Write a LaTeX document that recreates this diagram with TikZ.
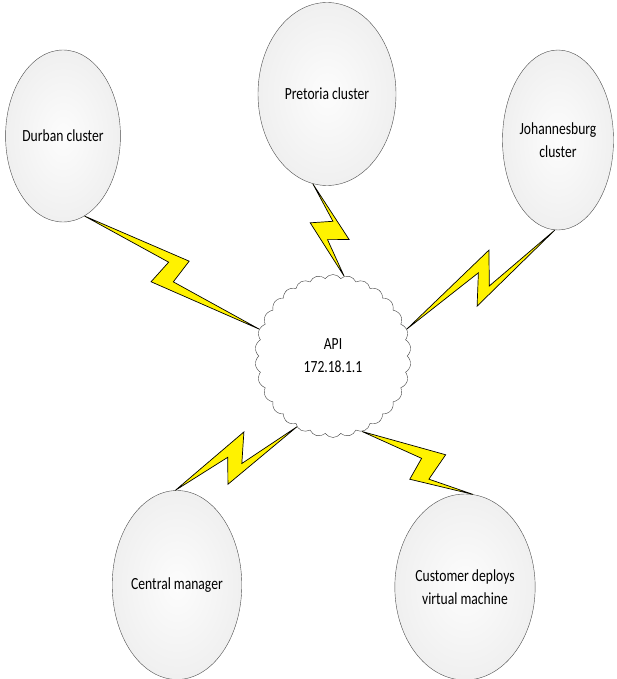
\documentclass[tikz,border=0pt]{standalone}
\usepackage{fontspec}
\setmainfont{Carlito}[FakeStretch=0.8]
\usetikzlibrary{shapes.geometric,shapes.symbols,calc}
\begin{document}
\begin{tikzpicture}[x=1pt,y=1pt]
\tikzset{cluster/.style = {shape=ellipse,draw=black!70,inner color=black!1,outer color=black!6,
  align=center,inner sep=0pt,font=\fontsize{17}{23}\selectfont}}
\tikzset{bolt/.style n args = {8}{fill=yellow,draw=black,line width=0.7pt,line join=miter,
  to path={-- ($(\tikztostart)!#1!(\tikztotarget)!#2pt!90:(\tikztotarget)$)
           -- ($(\tikztostart)!#3!(\tikztotarget)!#4pt!90:(\tikztotarget)$)
           -- (\tikztotarget)
           -- ($(\tikztostart)!#5!(\tikztotarget)!#6pt!90:(\tikztotarget)$)
           -- ($(\tikztostart)!#7!(\tikztotarget)!#8pt!90:(\tikztotarget)$)
           -- cycle}}}
\useasboundingbox (0,0) rectangle (616,-679);
% clusters on top
\node[cluster,minimum width=112pt,minimum height=172pt] (dur) at (63,-136) {Durban cluster};
\node[cluster,minimum width=138pt,minimum height=183pt] (pre) at (327,-94) {Pretoria cluster};
\node[cluster,minimum width=111pt,minimum height=180pt] (jnb) at (558,-140) {Johannesburg\\cluster};
% api in the middle
\node[cloud,cloud puffs=30,cloud puff arc=110,aspect=1,draw=black!75,fill=white,align=center,
  minimum width=156pt,minimum height=163pt,font=\fontsize{17}{23}\selectfont] (api) at (333,-356) {API\\172.18.1.1};
% nodes below
\node[cluster,minimum width=125pt,minimum height=189pt] (cen) at (177,-585) {Central manager};
\node[cluster,minimum width=121pt,minimum height=186pt] (cus) at (465,-587) {Customer deploys\\virtual machine};
% lightning links to the api
\draw[bolt={.54}{19}{.53}{-7}{.44}{-19}{.46}{7}] (dur.-75.5) to (api.160);
\draw[bolt={.66}{16.5}{.59}{-4}{.37}{-15}{.43}{7}] (pre.-99) to (api.82);
\draw[bolt={.60}{20}{.49}{-7}{.37}{-20}{.48}{10}] (jnb.-92) to (api.20);
\draw[bolt={.64}{20}{.52}{-7}{.36}{-19}{.45}{5}] (cen.91) to (api.-117);
\draw[bolt={.66}{21}{.64}{-8.5}{.51}{-18}{.51}{6}] (api.-69) to (cus.85);
\end{tikzpicture}
\end{document}
